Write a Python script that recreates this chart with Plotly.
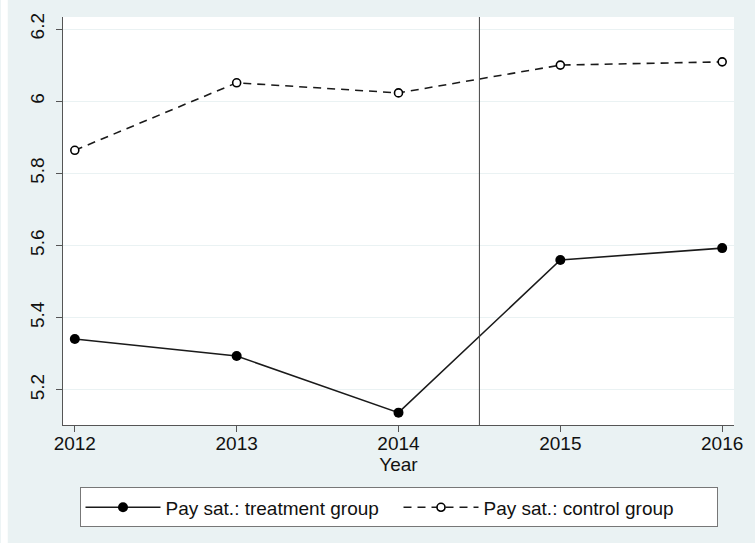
import plotly.graph_objects as go

years = [2012, 2013, 2014, 2015, 2016]
treatment = [5.341, 5.294, 5.137, 5.560, 5.593]
control = [5.864, 6.051, 6.023, 6.100, 6.109]
y_tick_vals = [5.2, 5.4, 5.6, 5.8, 6.0, 6.2]
y_tick_text = ["5.2", "5.4", "5.6", "5.8", "6", "6.2"]
x_tick_vals = [2012, 2013, 2014, 2015, 2016]
x_tick_text = ["2012", "2013", "2014", "2015", "2016"]
policy_year = 2014.5

BG = "#EAF2F3"
FONT = "Liberation Sans, Arial, sans-serif"

fig = go.Figure()
fig.add_trace(go.Scatter(
    x=years, y=treatment, mode="lines+markers",
    name="Pay sat.: treatment group",
    line=dict(color="#1a1a1a", width=1.6),
    marker=dict(symbol="circle", size=10, color="#000000"),
))
fig.add_trace(go.Scatter(
    x=years, y=control, mode="lines+markers",
    name="Pay sat.: control group",
    line=dict(color="#1a1a1a", width=1.6, dash="8px,6px"),
    marker=dict(symbol="circle", size=8, color="white",
                line=dict(color="#000000", width=1.6)),
))

fig.add_shape(type="line", xref="x", yref="paper",
              x0=policy_year, x1=policy_year, y0=0, y1=1,
              line=dict(color="#444444", width=1))
# white strip at left edge of the image
fig.add_shape(type="rect", xref="paper", yref="paper",
              x0=-63/680, x1=-56/680, y0=-118/408, y1=1 + 17/408,
              fillcolor="white", line=dict(width=0), layer="below")

fig.update_layout(
    width=755, height=543,
    margin=dict(l=63, r=12, t=17, b=118),
    paper_bgcolor=BG, plot_bgcolor="white",
    font=dict(family=FONT, size=19, color="#111111"),
    showlegend=True,
    legend=dict(
        orientation="h", x=0.5, xanchor="center", y=-0.153, yanchor="top",
        bgcolor="white", bordercolor="#777777", borderwidth=1,
        font=dict(family=FONT, size=19, color="#111111"),
        itemwidth=75, entrywidth=228, tracegroupgap=0,
    ),
    xaxis=dict(
        range=[2011.927, 2016.073],
        tickvals=x_tick_vals, ticktext=x_tick_text,
        tickfont=dict(family=FONT, size=19),
        showgrid=False, zeroline=False,
        showline=True, linecolor="#555555", linewidth=1,
        ticks="outside", ticklen=6, tickcolor="#555555",
        ticklabelstandoff=-5,
        title=dict(text="Year", standoff=0, font=dict(family=FONT, size=19)),
    ),
    yaxis=dict(
        range=[5.1028, 6.2333],
        tickvals=y_tick_vals, ticktext=y_tick_text,
        tickangle=-90,
        showgrid=True, gridcolor=BG, gridwidth=1.2, zeroline=False,
        showline=True, linecolor="#555555", linewidth=1,
        ticks="outside", ticklen=6, tickcolor="#555555",
        ticklabelstandoff=4,
    ),
)

fig.write_html("out.html", config={"displayModeBar": False},
               post_script="document.body.style.margin='0';")
